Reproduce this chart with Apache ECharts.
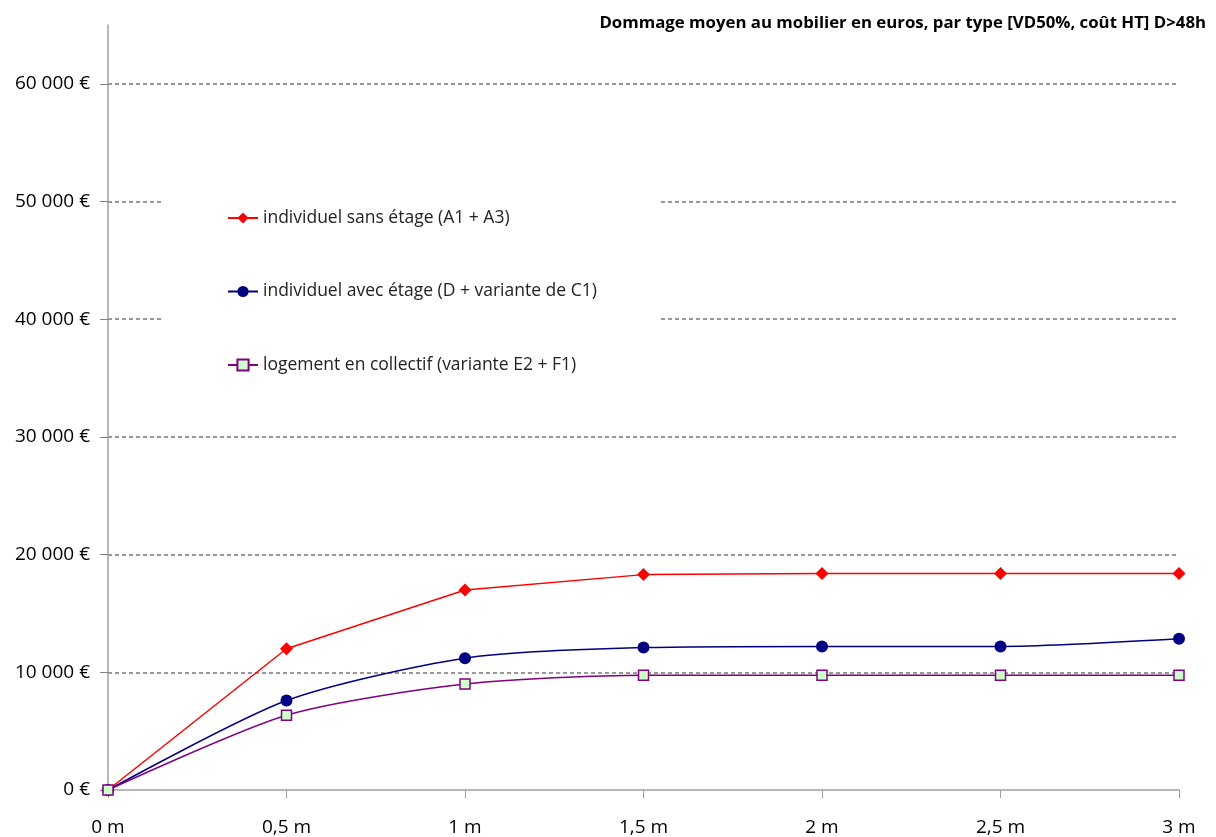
<!DOCTYPE html>
<html>
<head>
<meta charset="utf-8">
<script src="https://cdn.jsdelivr.net/npm/echarts@6/dist/echarts.min.js"></script>
<style>
  html, body { margin: 0; padding: 0; background: #fff; }
  #chart { width: 1216px; height: 837px; }
</style>
</head>
<body>
<div id="chart"></div>
<script>
// Water depth categories
const depths = ['0 m', '0,5 m', '1 m', '1,5 m', '2 m', '2,5 m', '3 m'];

// Average furniture damage (euros) per dwelling type
const individuelSansEtage = [0, 12000, 17000, 18300, 18400, 18400, 18400];
const individuelAvecEtage = [0, 7600, 11200, 12100, 12200, 12200, 12850];
const logementCollectif = [0, 6350, 9000, 9750, 9750, 9750, 9750];

const seriesNames = [
  'individuel sans étage (A1 + A3)',
  'individuel avec étage (D + variante de C1)',
  'logement en collectif (variante E2 + F1)'
];

// Y-axis tick values
const yTicks = [0, 10000, 20000, 30000, 40000, 50000, 60000];

const font = '"Open Sans", "Noto Sans", sans-serif';

function euro(v) {
  const s = String(Math.round(v)).replace(/\B(?=(\d{3})+(?!\d))/g, ' ');
  return s + ' €';
}

const chart = echarts.init(document.getElementById('chart'), null, { renderer: 'canvas' });

chart.setOption({
  animation: false,
  backgroundColor: '#ffffff',
  title: {
    text: 'Dommage moyen au mobilier en euros, par type [VD50%, coût HT] D>48h',
    right: 5,
    top: 10,
    textStyle: { fontFamily: font, fontSize: 16.8, fontWeight: 'bold', color: '#000' }
  },
  grid: { left: 108, right: 37, top: 25, bottom: 47, containLabel: false },
  legend: {
    orient: 'vertical',
    left: 161,
    top: 160,
    padding: [49, 61, 40, 66],
    backgroundColor: '#ffffff',
    itemWidth: 30,
    itemHeight: 14,
    itemGap: 55.5,
    textStyle: { fontFamily: font, fontSize: 17.5, color: '#222' },
    data: seriesNames
  },
  xAxis: {
    type: 'category',
    data: depths,
    boundaryGap: false,
    axisLine: { lineStyle: { color: '#a0a0a0', width: 1.5 } },
    axisTick: { show: true, length: 8, alignWithLabel: true, lineStyle: { color: '#a0a0a0' } },
    axisLabel: { margin: 28, fontFamily: font, fontSize: 19, color: '#000' },
    splitLine: { show: false }
  },
  yAxis: {
    type: 'value',
    min: 0,
    max: 65000,
    interval: 10000,
    axisLine: { show: true, lineStyle: { color: '#a0a0a0', width: 1.5 } },
    axisTick: { show: true, length: 8, customValues: yTicks, lineStyle: { color: '#808080' } },
    axisLabel: {
      margin: 18,
      fontFamily: font,
      fontSize: 19,
      color: '#000',
      customValues: yTicks,
      formatter: euro
    },
    splitLine: {
      show: true,
      showMinLine: false,
      lineStyle: { color: '#777777', type: [4, 3], width: 1.5 }
    }
  },
  series: [
    {
      name: seriesNames[0],
      type: 'line',
      data: individuelSansEtage,
      symbol: 'diamond',
      symbolSize: 13,
      lineStyle: { color: '#ff0000', width: 1.5 },
      itemStyle: { color: '#ff0000' }
    },
    {
      name: seriesNames[1],
      type: 'line',
      data: individuelAvecEtage,
      smooth: 0.25,
      symbol: 'circle',
      symbolSize: 12,
      lineStyle: { color: '#000080', width: 1.5 },
      itemStyle: { color: '#000080' }
    },
    {
      name: seriesNames[2],
      type: 'line',
      data: logementCollectif,
      smooth: 0.25,
      symbol: 'rect',
      symbolSize: 10,
      lineStyle: { color: '#800080', width: 1.5 },
      itemStyle: { color: '#ccffcc', borderColor: '#800080', borderWidth: 1.5 }
    }
  ]
});
</script>
</body>
</html>
